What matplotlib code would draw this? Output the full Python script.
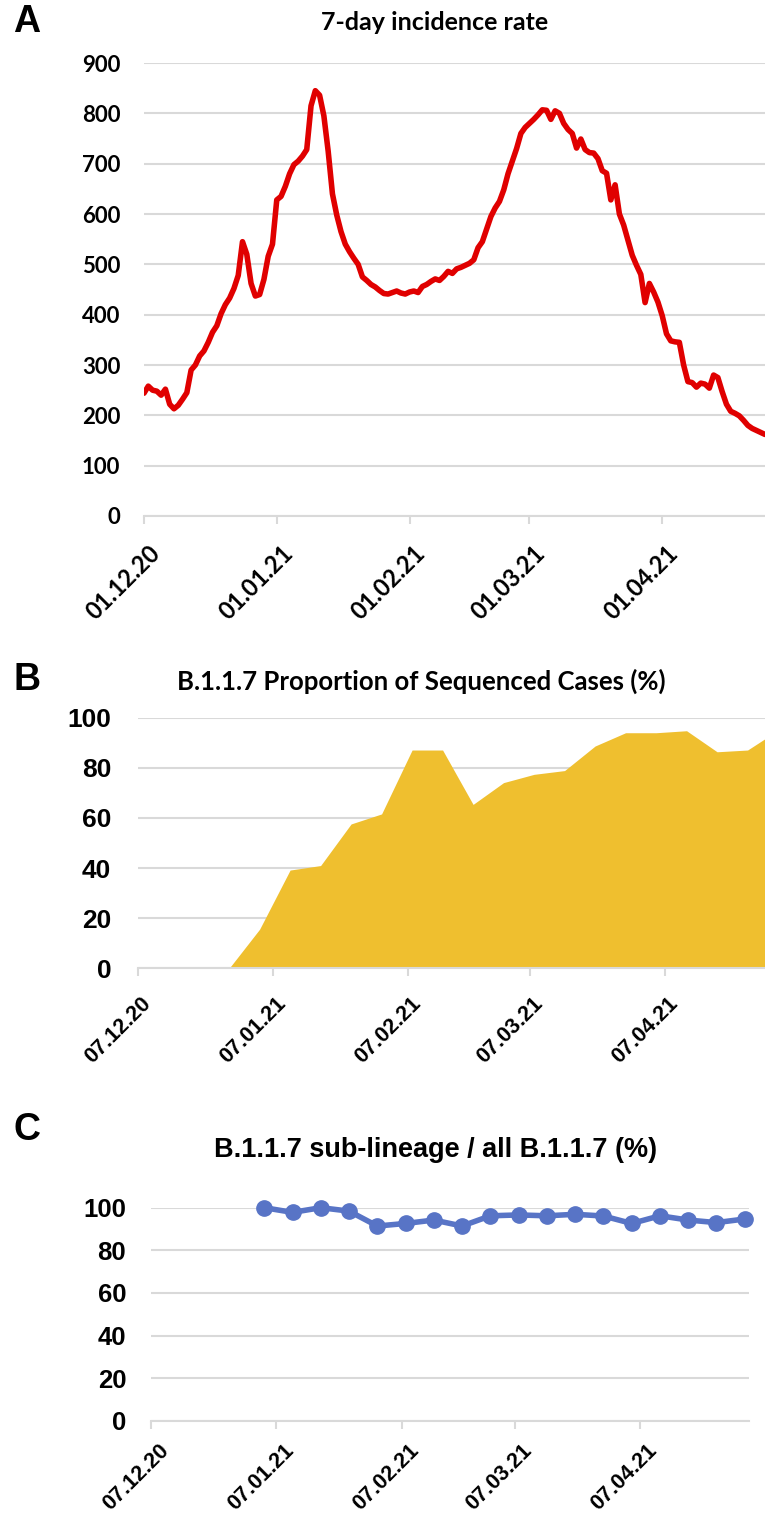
import numpy as np
import matplotlib
matplotlib.use("Agg")
import matplotlib.pyplot as plt
import matplotlib.dates as mdates
import matplotlib.transforms as mtrans
from matplotlib import font_manager

# ---------------- data ----------------
incidence_start = "2020-12-01"
incidence = [244, 258, 250, 248, 240, 252, 222, 213, 220, 232,
             245, 290, 300, 318, 328, 345, 365, 378, 402, 420,
             433, 452, 478, 545, 520, 462, 437, 440, 470, 516,
             540, 628, 635, 655, 680, 698, 705, 715, 728, 815,
             845, 836, 795, 725, 640, 598, 565, 540, 525, 512,
             500, 475, 468, 460, 455, 448, 442, 441, 444, 447,
             443, 441, 445, 447, 444, 456, 460, 466, 471, 468,
             476, 486, 482, 491, 494, 498, 502, 509, 533, 545,
             570, 595, 612, 625, 648, 680, 705, 730, 760, 772,
             780, 788, 797, 807, 806, 788, 805, 800, 780, 768,
             760, 731, 749, 728, 722, 721, 710, 686, 681, 628,
             658, 600, 578, 548, 518, 498, 480, 424, 462, 445,
             425, 398, 362, 348, 346, 345, 300, 267, 265, 256,
             264, 262, 254, 280, 275, 247, 222, 208, 204, 199,
             190, 180, 174, 170, 166, 162]
a_ticks = ["2020-12-01", "2021-01-01", "2021-02-01", "2021-03-01", "2021-04-01"]

b_dates = ["2020-12-07", "2020-12-14", "2020-12-21", "2020-12-28", "2021-01-04",
           "2021-01-11", "2021-01-18", "2021-01-25", "2021-02-01", "2021-02-08",
           "2021-02-15", "2021-02-22", "2021-03-01", "2021-03-08", "2021-03-15",
           "2021-03-22", "2021-03-29", "2021-04-05", "2021-04-12", "2021-04-19",
           "2021-04-26", "2021-05-03"]
b_values = [0, 0, 0, 0, 15.6, 39.2, 41.0, 57.6, 61.6, 87.1, 87.1, 65.4, 74.1,
            77.4, 78.9, 88.7, 94.0, 94.0, 94.8, 86.4, 87.1, 95.0]

c_dates = ["2021-01-04", "2021-01-11", "2021-01-18", "2021-01-25", "2021-02-01",
           "2021-02-08", "2021-02-15", "2021-02-22", "2021-03-01", "2021-03-08",
           "2021-03-15", "2021-03-22", "2021-03-29", "2021-04-05", "2021-04-12",
           "2021-04-19", "2021-04-26", "2021-05-03"]
c_values = [100, 97.8, 100, 98.4, 91.4, 92.6, 94.2, 91.4, 96.2, 96.6, 96.2,
            96.9, 96.1, 92.6, 96.2, 94.2, 93.0, 94.7]
bc_ticks = ["2020-12-07", "2021-01-07", "2021-02-07", "2021-03-07", "2021-04-07"]

titles = ["7-day incidence rate", "B.1.1.7 Proportion of Sequenced Cases (%)",
          "B.1.1.7 sub-lineage / all B.1.1.7 (%)"]
panel_letters = ["A", "B", "C"]

# ---------------- fonts ----------------
names = {f.name for f in font_manager.fontManager.ttflist}
calibri_like = "Lato" if "Lato" in names else "DejaVu Sans"
arial = "Liberation Sans"

W, H = 765, 1517
fig = plt.figure(figsize=(W / 100, H / 100), dpi=100)

def px_axes(left, top, right, bottom):
    return fig.add_axes([left / W, 1 - bottom / H, (right - left) / W, (bottom - top) / H])

GRID = "#D9D9D9"

def style(ax, xfont, xsize, xpad, xdx, yfont, ysize, ypad):
    for s in ["top", "right", "left"]:
        ax.spines[s].set_visible(False)
    ax.spines["bottom"].set_color(GRID)
    ax.spines["bottom"].set_linewidth(1.5)
    ax.grid(axis="y", color=GRID, linewidth=1.5)
    ax.set_axisbelow(True)
    ax.tick_params(axis="y", length=0, pad=ypad)
    ax.tick_params(axis="x", length=6, width=1.5, color=GRID, pad=xpad)
    for lab in ax.get_yticklabels():
        lab.set_fontfamily(yfont)
        lab.set_fontsize(ysize)
        lab.set_fontweight("bold")
    offset = mtrans.ScaledTranslation(xdx / 100, 0, fig.dpi_scale_trans)
    for lab in ax.get_xticklabels():
        lab.set_fontfamily(xfont)
        lab.set_fontsize(xsize)
        lab.set_fontweight("bold")
        lab.set_rotation(45)
        lab.set_ha("right")
        lab.set_va("top")
        lab.set_rotation_mode("anchor")
        lab.set_transform(lab.get_transform() + offset)

# ---------------- Panel A ----------------
axA = px_axes(144, 63, 765, 516)
dA = np.datetime64(incidence_start) + np.arange(len(incidence))
axA.plot(dA.astype("datetime64[D]").astype(object), incidence, color="#E00000", lw=4.0,
         solid_joinstyle="round", solid_capstyle="round")
axA.set_ylim(0, 900)
axA.set_yticks(range(0, 901, 100))
axA.set_xlim(np.datetime64("2020-12-01").astype(object),
             (np.datetime64("2020-12-01") + np.timedelta64(145, "D")).astype(object))
axA.set_xticks([np.datetime64(t).astype(object) for t in a_ticks])
axA.xaxis.set_major_formatter(mdates.DateFormatter("%d.%m.%y"))
style(axA, calibri_like, 17, 12, 4, calibri_like, 16, 17)

# ---------------- Panel B ----------------
axB = px_axes(137.6, 717.7, 765, 968.3)
dB = [np.datetime64(d).astype(object) for d in b_dates]
axB.fill_between(dB, 0, b_values, color="#EFBF2F", linewidth=0)
axB.set_ylim(0, 100)
axB.set_yticks(range(0, 101, 20))
axB.set_xlim(np.datetime64("2020-12-07").astype(object),
             (np.datetime64("2020-12-07") + np.timedelta64(144, "D")).astype(object))
axB.set_xticks([np.datetime64(t).astype(object) for t in bc_ticks])
axB.xaxis.set_major_formatter(mdates.DateFormatter("%d.%m.%y"))
style(axB, arial, 15.5, 12, 3, arial, 19, 19)

# ---------------- Panel C ----------------
axC = px_axes(151.2, 1207.7, 748.8, 1420.7)
dC = [np.datetime64(d).astype(object) for d in c_dates]
axC.plot(dC, c_values, color="#5874C6", lw=4.0, marker="o", markersize=11,
         clip_on=False, zorder=3)
axC.set_ylim(0, 100)
axC.set_yticks(range(0, 101, 20))
axC.set_xlim(np.datetime64("2020-12-07").astype(object),
             (np.datetime64("2020-12-07") + np.timedelta64(148, "D")).astype(object))
axC.set_xticks([np.datetime64(t).astype(object) for t in bc_ticks])
axC.xaxis.set_major_formatter(mdates.DateFormatter("%d.%m.%y"))
style(axC, arial, 15.5, 8, 7, arial, 18.5, 18)

# ---------------- titles and letters ----------------
fig.text(435 / W, 1 - 22 / H, titles[0], ha="center", va="center",
         fontfamily=calibri_like, fontweight="bold", fontsize=18)
fig.text(421 / W, 1 - 681 / H, titles[1], ha="center", va="center",
         fontfamily=calibri_like, fontweight="bold", fontsize=18.5)
fig.text(436 / W, 1 - 1150 / H, titles[2], ha="center", va="center",
         fontfamily=arial, fontweight="bold", fontsize=19.5)
for letter, y in zip(panel_letters, [22, 680, 1130]):
    fig.text(27 / W, 1 - y / H, letter, ha="center", va="center",
             fontfamily=arial, fontweight="bold", fontsize=27)

fig.savefig("out.png", dpi=100, facecolor="white")
